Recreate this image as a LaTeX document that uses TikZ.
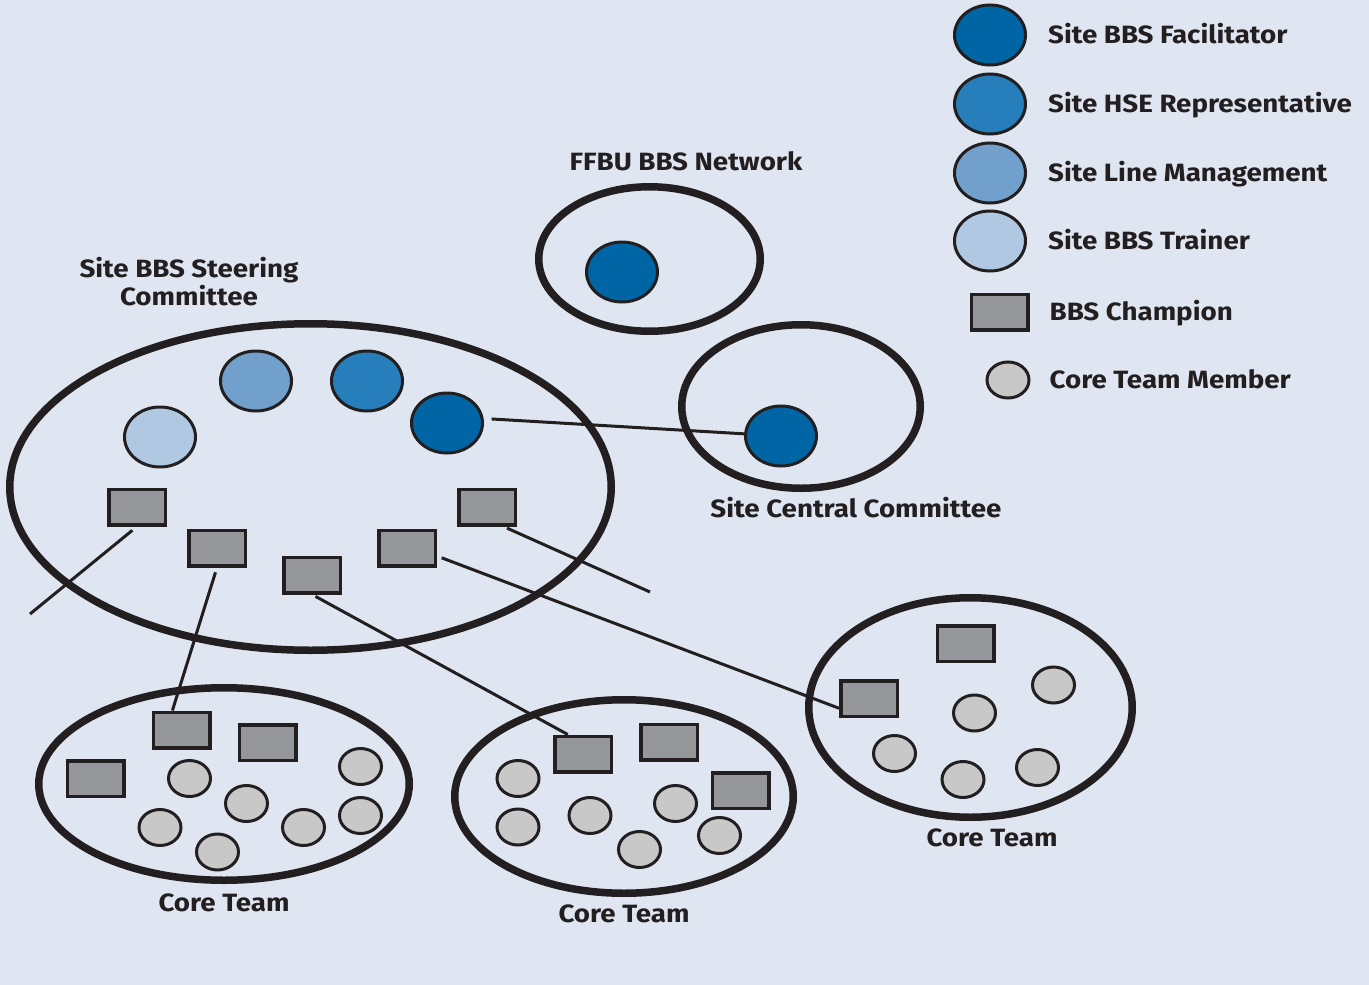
\documentclass[tikz,border=0pt]{standalone}
\usepackage{fontspec}
\setmainfont{Fira Sans}[FakeStretch=1.11]
\usetikzlibrary{shapes.geometric, positioning}
\definecolor{bgblue}{RGB}{223,230,241}
\definecolor{facil}{RGB}{0,101,164}
\definecolor{hserep}{RGB}{38,127,187}
\definecolor{linemgt}{RGB}{112,160,203}
\definecolor{trainer}{RGB}{177,200,227}
\definecolor{champ}{RGB}{150,151,155}
\definecolor{memgray}{RGB}{200,200,200}
\definecolor{ink}{RGB}{35,31,32}

\begin{document}
\begin{tikzpicture}[
    x=1pt, y=-1pt,
    group/.style={ellipse, draw=ink, line width=7.5pt, inner sep=0pt},
    role/.style={ellipse, draw=ink, line width=3pt, minimum width=71pt, minimum height=60pt, inner sep=0pt},
    champion/.style={rectangle, draw=ink, line width=3.5pt, fill=champ, minimum width=56.5pt, minimum height=35.5pt, inner sep=0pt},
    teammember/.style={ellipse, draw=ink, line width=3pt, fill=memgray, minimum width=42pt, minimum height=36pt, inner sep=0pt},
    link/.style={draw=ink, line width=3pt},
    txt/.style={text=ink, font=\fontsize{25}{28}\selectfont\bfseries, inner sep=0pt},
    legtxt/.style={txt, text height=17pt, text depth=0pt}
]
    \fill[bgblue] (0,0) rectangle (1369,985);
    \useasboundingbox (0,0) rectangle (1369,985);

    % Legend
    \node[role, fill=facil] (lfac) at (990,35) {};
    \node[role, fill=hserep] (lhse) at (990,104) {};
    \node[role, fill=linemgt] (lline) at (990,173) {};
    \node[role, fill=trainer] (ltrain) at (990,241) {};
    \node[champion] (lchamp) at (999.5,312) {};
    \node[teammember] (lmember) at (1008,380) {};

    \node[legtxt, right=21pt of lfac] {Site BBS Facilitator};
    \node[legtxt, right=21pt of lhse] {Site HSE Representative};
    \node[legtxt, right=21pt of lline] {Site Line Management};
    \node[legtxt, right=21pt of ltrain] {Site BBS Trainer};
    \node[legtxt, right=20pt of lchamp] {BBS Champion};
    \node[legtxt, right=19pt of lmember] {Core Team Member};

    % Committees
    \node[group, minimum width=221.5pt, minimum height=144.5pt] (net) at (649.5,259) {};
    \node[group, minimum width=238.5pt, minimum height=163.5pt] (central) at (801,406.5) {};
    \node[group, minimum width=601.5pt, minimum height=326.5pt] (steer) at (310.5,487) {};

    \node[txt, anchor=base] at (686,170) {FFBU BBS Network};
    \node[txt, anchor=base] at (856,517) {Site Central Committee};
    \node[txt, anchor=north, align=center] at (189,257) {Site BBS Steering\\Committee};

    \node[role, fill=facil] (nfac) at (622,272) {};
    \node[role, fill=facil] (cfac) at (781,436) {};

    \node[role, fill=trainer] (strain) at (160,437) {};
    \node[role, fill=linemgt] (sline) at (256,381) {};
    \node[role, fill=hserep] (shse) at (367,381) {};
    \node[role, fill=facil] (sfac) at (447,423) {};

    \node[champion] (sc1) at (137,507) {};
    \node[champion] (sc2) at (217,548) {};
    \node[champion] (sc3) at (312,575) {};
    \node[champion] (sc4) at (407,548) {};
    \node[champion] (sc5) at (487,507) {};

    % Core teams
    \node[group, minimum width=370.5pt, minimum height=192.5pt] (core1) at (224,784) {};
    \node[group, minimum width=338.5pt, minimum height=193.5pt] (core2) at (624,796.5) {};
    \node[group, minimum width=323.5pt, minimum height=219.5pt] (core3) at (970.5,707.5) {};

    \node[txt, below=10pt of core1] {Core Team};
    \node[txt, below=8pt of core2] {Core Team};
    \node[txt, below=8pt of core3, xshift=21.5pt] {Core Team};

    \node[champion] (qa) at (95.5,778.5) {};
    \node[champion] (qb) at (181.5,730) {};
    \node[champion] (qc) at (267.5,742.5) {};
    \node[teammember] (a1) at (189.5,778.5) {};
    \node[teammember] (a2) at (246.5,803.5) {};
    \node[teammember] (a3) at (160,827.5) {};
    \node[teammember] (a4) at (217.5,852) {};
    \node[teammember] (a5) at (303.5,827.5) {};
    \node[teammember] (a6) at (360.5,766.5) {};
    \node[teammember] (a7) at (360.5,815.5) {};

    \node[champion] (qd) at (583,754) {};
    \node[champion] (qe) at (669,742) {};
    \node[champion] (qf) at (740.5,790.5) {};
    \node[teammember] (b1) at (518,778.5) {};
    \node[teammember] (b2) at (518,827) {};
    \node[teammember] (b3) at (590,815.5) {};
    \node[teammember] (b4) at (639.5,849.5) {};
    \node[teammember] (b5) at (675.5,803.5) {};
    \node[teammember] (b6) at (719.5,835.5) {};

    \node[champion] (qg) at (965.5,643.5) {};
    \node[champion] (qh) at (869,698.5) {};
    \node[teammember] (e1) at (1053.5,685) {};
    \node[teammember] (e2) at (974.5,713) {};
    \node[teammember] (e3) at (894.5,753.5) {};
    \node[teammember] (e4) at (963,779.5) {};
    \node[teammember] (e5) at (1037.5,767.5) {};

    % Links
    \coordinate (free1) at (30,614);
    \coordinate (free2) at (650,592);
    \draw[link, shorten <=8pt] (sfac.7) -- (cfac);
    \draw[link, shorten <=6pt] (sc1.south) -- (free1);
    \draw[link, shorten <=5pt] (sc2.south) -- (qb.115);
    \draw[link, shorten <=4pt] (sc3.south) -- (qd.128);
    \draw[link, shorten <=5pt] (sc4.-15) -- (qh.198);
    \draw[link, shorten <=4pt] (sc5.-50) -- (free2);
\end{tikzpicture}
\end{document}
